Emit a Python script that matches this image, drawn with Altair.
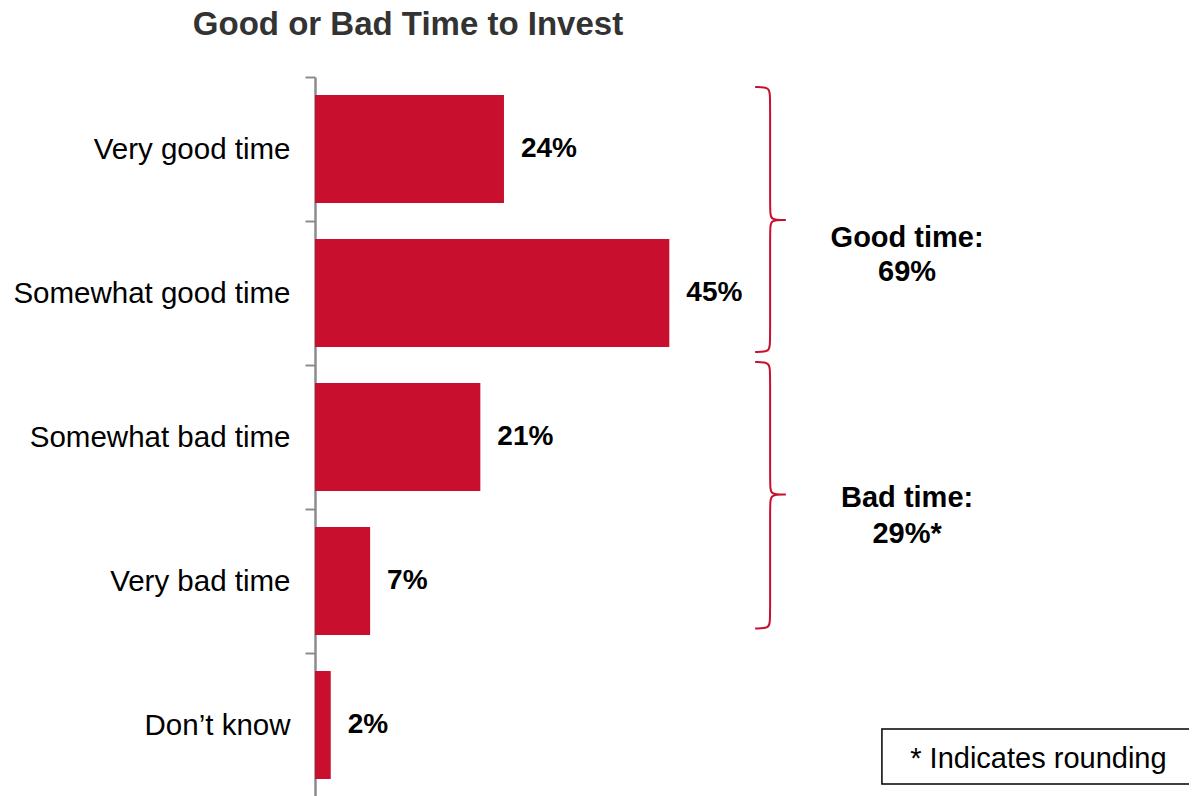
import altair as alt
import pandas as pd

# ---- data ----
categories = ["Very good time", "Somewhat good time", "Somewhat bad time", "Very bad time", "Don’t know"]
values = [24, 45, 21, 7, 2]
value_labels = ["24%", "45%", "21%", "7%", "2%"]

group_titles = ["Good time:", "Bad time:"]
group_totals = ["69%", "29%*"]
footnote = ["* Indicates rounding"]

RED = "#C8102E"
FONT = "Liberation Sans"
XDOM = [0, 111]

bars_df = pd.DataFrame({"cat": categories, "value": values, "label": value_labels})

xs = alt.Scale(domain=XDOM, nice=False, zero=True)
ys_band = alt.Scale(domain=categories, paddingInner=0, paddingOuter=0)

yaxis = alt.Axis(tickBand="extent", labelFont=FONT, labelFontSize=29.5,
                 labelColor="#000000", labelPadding=15, tickSize=10,
                 tickColor="#8C8C8C", tickWidth=2, domainColor="#8C8C8C",
                 domainWidth=2.5, labelLimit=400, grid=False, title=None)

bars = alt.Chart(bars_df).mark_bar(color=RED, height={"band": 0.75}).encode(
    x=alt.X("value:Q", scale=xs, axis=None),
    y=alt.Y("cat:N", scale=ys_band, sort=categories, axis=yaxis),
)

vlabels = alt.Chart(bars_df).mark_text(align="left", baseline="middle", dx=17,
                                       font=FONT, fontSize=28, fontWeight="bold",
                                       color="#000000").encode(
    x=alt.X("value:Q", scale=xs, axis=None),
    y=alt.Y("cat:N", scale=ys_band, sort=categories, axis=yaxis),
    text="label:N",
)

# ---- annotation layers (y in category-index units) ----
brace_spans = [(0.07, 0.993, 1.91), (1.98, 2.90, 3.83)]
bx_end, bx_mid, bx_tip = 55.9, 57.8, 59.8
rows = []
for gi, (y0, tip, y1) in enumerate(brace_spans):
    pts = [(bx_end, y0), (bx_mid, y0), (bx_mid, y0 + 0.07), (bx_mid, tip - 0.06),
           (bx_mid, tip), (bx_tip, tip), (bx_tip, tip), (bx_tip, tip),
           (bx_mid, tip), (bx_mid, tip + 0.06), (bx_mid, y1 - 0.07), (bx_mid, y1),
           (bx_end, y1)]
    for k, (px, py) in enumerate(pts):
        rows.append({"g": gi, "o": k, "x": px, "y": py})
brace_df = pd.DataFrame(rows)

ys_q = alt.Scale(domain=[0, 5], reverse=True, nice=False, zero=False)

braces = alt.Chart(brace_df).mark_line(color=RED, strokeWidth=2, interpolate="basis").encode(
    x=alt.X("x:Q", scale=xs, axis=None),
    y=alt.Y("y:Q", scale=ys_q, axis=None),
    detail="g:N",
    order="o:Q",
)

gtext_df = pd.DataFrame({
    "text": [group_titles[0], group_totals[0], group_titles[1], group_totals[1]],
    "x": [75.2, 75.2, 75.2, 75.2],
    "y": [1.118, 1.354, 2.924, 3.174],
})
gtext = alt.Chart(gtext_df).mark_text(align="center", baseline="middle", font=FONT,
                                      fontSize=29, fontWeight="bold", color="#000000").encode(
    x=alt.X("x:Q", scale=xs, axis=None),
    y=alt.Y("y:Q", scale=ys_q, axis=None),
    text="text:N",
)

box_df = pd.DataFrame({"x": [72.0], "x2": [113.0], "y": [4.528], "y2": [4.910]})
box = alt.Chart(box_df).mark_rect(fill="white", stroke="#000000", strokeWidth=1.5).encode(
    x=alt.X("x:Q", scale=xs, axis=None), x2="x2:Q",
    y=alt.Y("y:Q", scale=ys_q, axis=None), y2="y2:Q",
)
note_df = pd.DataFrame({"text": footnote, "x": [75.6], "y": [4.736]})
note = alt.Chart(note_df).mark_text(align="left", baseline="middle", font=FONT,
                                    fontSize=29, color="#000000").encode(
    x=alt.X("x:Q", scale=xs, axis=None),
    y=alt.Y("y:Q", scale=ys_q, axis=None),
    text="text:N",
)

main = alt.layer(bars, vlabels)
annot = alt.layer(braces, gtext, box, note)

chart = alt.layer(main, annot).resolve_scale(y="independent").properties(
    width=874, height=720, background="white",
    title=alt.TitleParams("Good or Bad Time to Invest", anchor="middle", dx=-344, dy=-16,
                          font=FONT, fontSize=33, fontWeight="bold", color="#333333"),
    autosize=alt.AutoSizeParams(type="none"),
    padding={"left": 307, "top": 69, "right": 0, "bottom": 0},
).configure_view(strokeWidth=0, stroke="transparent")

chart.save("out.html", embed_options={"renderer": "svg", "actions": False})
